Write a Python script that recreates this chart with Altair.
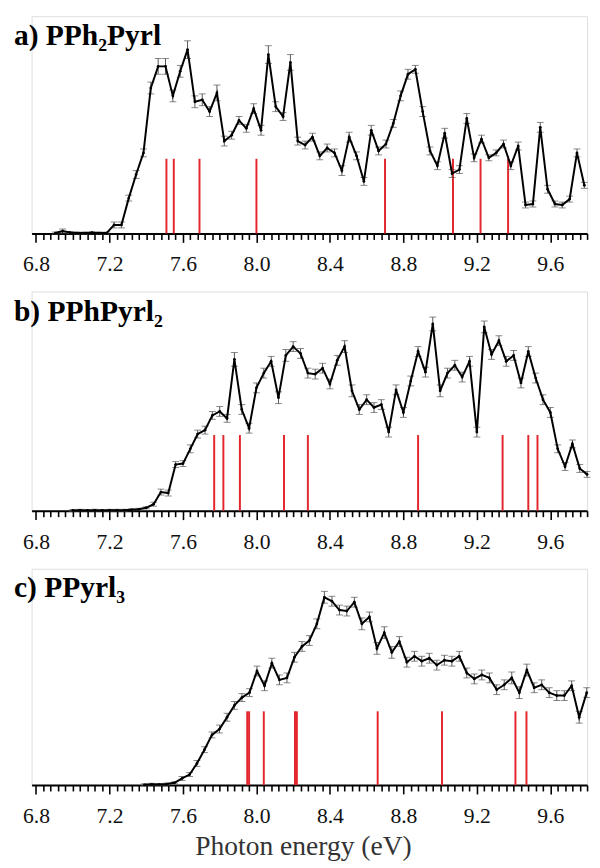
import altair as alt
import pandas as pd

# ---------------- data (signal in arbitrary units) ----------------
xa = [6.905, 6.945, 6.985, 7.025, 7.065, 7.105, 7.145, 7.185,
      7.225, 7.265, 7.305, 7.345, 7.385, 7.425, 7.465, 7.505, 7.545, 7.585,
      7.625, 7.665, 7.705, 7.745, 7.785, 7.825, 7.865, 7.905, 7.945, 7.985,
      8.025, 8.065, 8.105, 8.145, 8.185, 8.225, 8.265, 8.305, 8.345, 8.385,
      8.425, 8.465, 8.505, 8.545, 8.585, 8.625, 8.665, 8.705, 8.745, 8.785,
      8.825, 8.865, 8.905, 8.945, 8.985, 9.025, 9.065, 9.105, 9.145, 9.185,
      9.225, 9.265, 9.305, 9.345, 9.385, 9.425, 9.465, 9.505, 9.545, 9.585,
      9.625, 9.665, 9.705, 9.745, 9.785]
ya = [0.5, 2.5, 1.0, 0.5, 0.5, 0.8, 0.5, 0.5,
      8.7, 8.7, 36, 60, 82, 148, 170, 170, 140, 165,
      187, 134, 136, 124, 143, 94, 100, 115, 107, 127,
      105, 182, 129, 119, 174, 94, 90, 98, 79, 87,
      82, 64, 98, 79, 53, 105, 84, 91, 112, 140,
      162, 167, 124, 84, 69, 102, 61, 65, 117, 77,
      96, 77, 82, 91, 69, 89, 29, 30, 108, 45,
      30, 29, 35, 82, 49]
ea = [1, 2, 1, 1, 1, 1, 1, 1,
      3, 3, 3, 4, 4, 6, 8, 8, 6, 6,
      9, 6, 6, 5, 8, 5, 4, 4, 4, 5,
      5, 9, 5, 4, 8, 4, 4, 4, 4, 4,
      4, 5, 5, 4, 4, 5, 4, 4, 4, 5,
      5, 4, 5, 4, 4, 5, 4, 4, 5, 4,
      4, 3, 3, 4, 4, 4, 3, 3, 5, 4,
      3, 3, 3, 4, 3]

xb = [7.00, 7.04, 7.08, 7.12, 7.16, 7.20, 7.24, 7.28, 7.32, 7.36, 7.40,
      7.44, 7.48, 7.52, 7.56, 7.60, 7.64, 7.68, 7.72, 7.76, 7.80,
      7.84, 7.88, 7.92, 7.96, 8.00, 8.04, 8.08, 8.12, 8.16, 8.20,
      8.24, 8.28, 8.32, 8.36, 8.40, 8.44, 8.48, 8.52, 8.56, 8.60,
      8.64, 8.68, 8.72, 8.76, 8.80, 8.84, 8.88, 8.92, 8.96, 9.00,
      9.04, 9.08, 9.12, 9.16, 9.20, 9.24, 9.28, 9.32, 9.36, 9.40,
      9.44, 9.48, 9.52, 9.56, 9.60, 9.64, 9.68, 9.72, 9.76, 9.80]
yb = [0.3, 0.5, 0.3, 0.5, 0.3, 0.5, 0.5, 0.5, 1.0, 1.5, 3.0,
      6.7, 19, 18, 47, 48, 63, 78, 82, 97, 101,
      94, 154, 103, 84, 125, 140, 152, 115, 158, 167,
      160, 140, 139, 145, 129, 153, 167, 122, 103, 113,
      105, 108, 80, 123, 100, 132, 162, 141, 190, 122,
      140, 148, 136, 152, 80, 187, 159, 173, 152, 158,
      130, 162, 135, 113, 100, 63, 45, 68, 43, 37]
eb = [1, 1, 1, 1, 1, 1, 1, 1, 1, 1, 1,
      2, 3, 3, 3, 3, 4, 4, 4, 4, 5,
      4, 7, 5, 5, 5, 5, 5, 6, 6, 5,
      5, 5, 5, 5, 5, 5, 6, 6, 5, 5,
      5, 5, 5, 5, 5, 5, 5, 5, 7, 6,
      5, 5, 5, 5, 5, 6, 5, 5, 5, 5,
      5, 5, 5, 5, 5, 4, 4, 4, 4, 3]

xc = [7.39, 7.43, 7.47, 7.51,
      7.554, 7.595, 7.636, 7.676, 7.717, 7.758, 7.799, 7.840, 7.880, 7.921,
      7.962, 8.003, 8.044, 8.084, 8.125, 8.166, 8.207, 8.248, 8.288, 8.329,
      8.370, 8.411, 8.452, 8.492, 8.533, 8.574, 8.615, 8.656, 8.696, 8.737,
      8.778, 8.819, 8.860, 8.900, 8.941, 8.982, 9.023, 9.064, 9.104, 9.145,
      9.186, 9.227, 9.268, 9.308, 9.349, 9.390, 9.431, 9.472, 9.512, 9.553,
      9.594, 9.635, 9.676, 9.716, 9.757, 9.798]
yc = [0.3, 0.8, 0.5, 1.0,
      2.3, 6.7, 10.7, 22, 36, 51, 57, 69, 81, 89,
      94, 116, 101, 124, 107, 109, 130, 141, 147, 164,
      191, 187, 178, 177, 186, 164, 171, 139, 155, 135,
      146, 125, 131, 126, 129, 122, 127, 126, 131, 114,
      108, 112, 109, 97, 102, 109, 94, 117, 99, 102,
      94, 91, 91, 101, 69, 94]
ec = [1, 1, 1, 1,
      1, 2, 2, 3, 3, 3, 4, 4, 4, 4,
      4, 5, 5, 5, 5, 5, 5, 5, 5, 5,
      6, 5, 5, 5, 5, 6, 5, 6, 6, 6,
      5, 5, 5, 5, 5, 5, 5, 5, 5, 5,
      5, 5, 5, 5, 5, 6, 6, 6, 5, 5,
      5, 5, 5, 5, 6, 5]

# calculated transition energies (stick spectra)
sa = [7.51, 7.55, 7.69, 8.00, 8.70, 9.07, 9.22, 9.37]
sb = [7.77, 7.82, 7.91, 8.15, 8.28, 8.88, 9.34, 9.48, 9.53]
sc = [7.95, 7.96, 8.04, 8.21, 8.22, 8.66, 9.01, 9.41, 9.47]
stick_heights = [76, 77, 75]

titles = ["a) PPh\u2082Pyrl", "b) PPhPyrl\u2082", "c) PPyrl\u2083"]
major_ticks = [6.8, 7.2, 7.6, 8.0, 8.4, 8.8, 9.2, 9.6]
minor_ticks = [round(6.8 + 0.04 * i, 2) for i in range(76)]
x_domain = [6.776, 9.8]
panel_heights = [221, 223, 220]
title_y = [29, 30, 29]

SERIF = "Liberation Serif"
is_major = "abs(round(datum.value*100) % 40) < 0.5"


def panel(x, y, e, sticks, h_stick, title, H, ty, last):
    df = pd.DataFrame({"x": x, "y": y, "e": e})
    sdf = pd.DataFrame({"x": sticks, "h": [h_stick] * len(sticks), "base": [0] * len(sticks)})
    axis = alt.Axis(
        values=minor_ticks,
        labelExpr=f"{is_major} ? format(datum.value, '.1f') : ''",
        tickSize={"condition": {"test": is_major, "value": 9}, "value": 6},
        tickWidth=1.6, tickColor="black",
        domainColor="black", domainWidth=2,
        labelFont=SERIF, labelFontSize=22, labelColor="#111",
        labelPadding=12, labelOverlap=False, labelFlush=False,
        grid=False,
        title="Photon energy (eV)" if last else None,
        titleFont=SERIF, titleFontSize=28, titleFontWeight="normal", titleColor="#333",
        titleY=71, titleBaseline="alphabetic", titleX=276,
    )
    xenc = alt.X("x:Q", scale=alt.Scale(domain=x_domain, nice=False, zero=False), axis=axis)
    ysc = alt.Scale(domain=[0, H], nice=False, zero=False)

    sticks_l = alt.Chart(sdf).mark_rule(color="#e3262b", strokeWidth=2).encode(
        x=xenc, y=alt.Y("base:Q", scale=ysc, axis=None), y2="h:Q")
    base = alt.Chart(df).transform_calculate(lo="datum.y - datum.e", hi="datum.y + datum.e")
    err = base.mark_errorbar(color="#555", ticks={"size": 7, "thickness": 1},
                             rule={"strokeWidth": 1}).encode(
        x=xenc, y=alt.Y("lo:Q", scale=ysc, axis=None, title=None), y2="hi:Q")
    line = alt.Chart(df).mark_line(color="black", strokeWidth=2).encode(
        x=xenc, y=alt.Y("y:Q", scale=ysc, axis=None))
    pts = alt.Chart(df).mark_circle(color="black", size=8, opacity=1).encode(
        x=xenc, y=alt.Y("y:Q", scale=ysc, axis=None))
    ttl = alt.Chart(pd.DataFrame({"t": [title]})).mark_text(
        font=SERIF, fontWeight="bold", fontSize=30, align="left",
        baseline="alphabetic", color="black").encode(
        x=alt.value(-18), y=alt.value(ty), text="t:N")
    return alt.layer(sticks_l, err, line, pts, ttl).properties(width=565, height=H)


pa = panel(xa, ya, ea, sa, stick_heights[0], titles[0], panel_heights[0], title_y[0], False)
pb = panel(xb, yb, eb, sb, stick_heights[1], titles[1], panel_heights[1], title_y[1], False)
pc = panel(xc, yc, ec, sc, stick_heights[2], titles[2], panel_heights[2], title_y[2], True)

chart = alt.vconcat(pa, pb, pc, spacing=15).properties(
    padding={"left": 5, "top": 0, "right": 0, "bottom": 0}
).configure_view(stroke=None).configure_axis(
    labelFont=SERIF, titleFont=SERIF
).configure(background="white", font=SERIF)

chart.save("out.html", embed_options={"renderer": "svg", "actions": False})
